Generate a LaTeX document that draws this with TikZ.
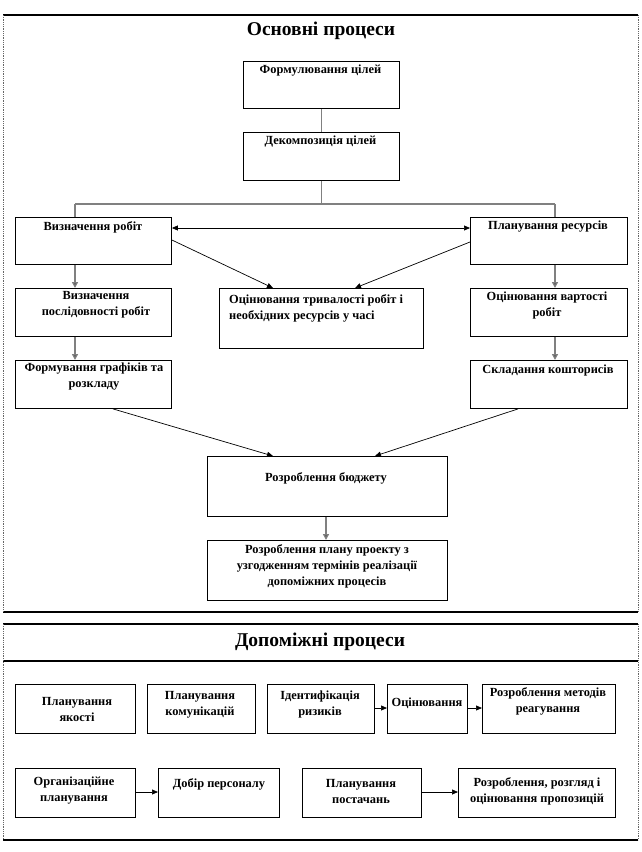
\documentclass[tikz,border=0pt]{standalone}
\usepackage{fontspec}
\setmainfont{Liberation Serif}
\usetikzlibrary{arrows.meta}
\begin{document}
\begin{tikzpicture}[x=1pt,y=-1pt,
  box/.style={draw=black,line width=0.9pt,rectangle,anchor=north west,inner sep=0pt},
  txt/.style={font=\bfseries\fontsize{12.4}{16}\selectfont,align=center,inner sep=0pt},
  ttl/.style={font=\bfseries\fontsize{19.5}{22}\selectfont,inner sep=0pt},
  gline/.style={draw=black!50,line width=1.4pt},
  garr/.style={draw=black!50,line width=1.4pt,-{Triangle[length=6pt,width=6pt,fill=black!80]}},
  barr/.style={draw=black,line width=0.7pt,-{Triangle[length=6pt,width=5pt]}},
  frame/.style={draw=black,line width=1.1pt},
  fside/.style={draw=black!60,line width=0.8pt,densely dotted}]
\useasboundingbox (0,0) rectangle (642,852);
% frames
\draw[frame] (3,15) -- (638,15);
\draw[frame] (3,612) -- (638,612);
\draw[fside] (3,15) -- (3,612);
\draw[fside] (638,15) -- (638,612);
\draw[frame] (3,624) -- (638,624);
\draw[frame] (3,840) -- (638,840);
\draw[frame] (3,661) -- (638,661);
\draw[fside] (3,624) -- (3,840);
\draw[fside] (638,624) -- (638,840);
\node[ttl] (t1) at (321,31) {Основні процеси};
\node[ttl] (t2) at (320,642) {Допоміжні процеси};
% main boxes
\node[box,minimum width=156pt,minimum height=47pt] (f1) at (243,61) {};
\node[txt] (f1t) at (320.5,71) {Формулювання цілей};
\node[box,minimum width=156pt,minimum height=48pt] (dc) at (243,132) {};
\node[txt] (dct) at (320.5,142) {Декомпозиція цілей};
\node[box,minimum width=156pt,minimum height=47pt] (vr) at (15,217) {};
\node[txt] (vrt) at (93,227) {Визначення робіт};
\node[box,minimum width=157pt,minimum height=47pt] (pr) at (470,217) {};
\node[txt] (prt) at (548,227) {Планування ресурсів};
\node[box,minimum width=156pt,minimum height=48pt] (vp) at (15,288) {};
\node[txt] (vpt) at (96,305) {Визначення\\послідовності робіт};
\node[box,minimum width=204pt,minimum height=60pt] (ot) at (219,288) {};
\node[txt,align=left,anchor=west] (ott) at (229,308) {Оцінювання тривалості робіт і\\необхідних ресурсів у часі};
\node[box,minimum width=157pt,minimum height=48pt] (ov) at (470,288) {};
\node[txt] (ovt) at (547,306) {Оцінювання вартості\\робіт};
\node[box,minimum width=156pt,minimum height=48pt] (fg) at (15,360) {};
\node[txt] (fgt) at (94,377) {Формування графіків та\\розкладу};
\node[box,minimum width=157pt,minimum height=48pt] (sk) at (470,360) {};
\node[txt] (skt) at (548,371) {Складання кошторисів};
\node[box,minimum width=240pt,minimum height=60pt] (bd) at (207,456) {};
\node[txt] (bdt) at (326,478) {Розроблення бюджету};
\node[box,minimum width=240pt,minimum height=60pt] (pl) at (207,540) {};
\node[txt] (plt) at (327,566) {Розроблення плану проекту з\\узгодженням термінів реалізації\\допоміжних процесів};
% connectors main
\coordinate (hc) at (dc.south |- 0,204);
\coordinate (hl) at (75,204);
\coordinate (hr) at (555,204);
\draw[gline] (f1.south) -- (dc.north);
\draw[gline] (dc.south) -- (hc);
\draw[gline] (hl) -- (hr);
\draw[gline] (hl) -- (hl |- vr.north);
\draw[gline] (hr) -- (hr |- pr.north);
\draw[draw=black,line width=0.7pt,{Triangle[length=6pt,width=5pt]}-{Triangle[length=6pt,width=5pt]}] (vr.east |- 0,228) -- (pr.west |- 0,228);
\draw[garr] (vr.south -| hl) -- (vp.north -| hl);
\draw[garr] (vp.south -| hl) -- (fg.north -| hl);
\draw[garr] (pr.south -| hr) -- (ov.north -| hr);
\draw[garr] (ov.south -| hr) -- (sk.north -| hr);
\draw[garr] (bd.south -| 326,0) -- (pl.north -| 326,0);
\draw[barr] (vr.east |- 0,240) -- (ot.north -| 273,0);
\draw[barr] (pr.west |- 0,242) -- (ot.north -| 355,0);
\draw[barr] (fg.south -| 113,0) -- (bd.north -| 273,0);
\draw[barr] (sk.south -| 518,0) -- (bd.north -| 375,0);
% auxiliary row 1
\node[box,minimum width=120pt,minimum height=49pt] (q) at (15,684) {};
\node[txt] (qt) at (77,709) {Планування\\якості};
\node[box,minimum width=108pt,minimum height=49pt] (k) at (147,684) {};
\node[txt] (kt) at (200,705) {Планування\\комунікацій};
\node[box,minimum width=107pt,minimum height=49pt] (id) at (267,684) {};
\node[txt] (idt) at (320,705) {Ідентифікація\\ризиків};
\node[box,minimum width=80pt,minimum height=49pt] (oc) at (387,684) {};
\node[txt] (oct) at (427,703) {Оцінювання};
\node[box,minimum width=133pt,minimum height=49pt] (mr) at (482,684) {};
\node[txt] (mrt) at (548,701) {Розроблення методів\\реагування};
\draw[barr] (id.east |- 0,708) -- (oc.west |- 0,708);
\draw[barr] (oc.east |- 0,708) -- (mr.west |- 0,708);
% auxiliary row 2
\node[box,minimum width=120pt,minimum height=49pt] (op) at (15,768) {};
\node[txt] (opt) at (74,791) {Організаційне\\планування};
\node[box,minimum width=121pt,minimum height=49pt] (dp) at (158,768) {};
\node[txt] (dpt) at (219,784) {Добір персоналу};
\node[box,minimum width=119pt,minimum height=49pt] (pp) at (302,768) {};
\node[txt] (ppt) at (361,791) {Планування\\постачань};
\node[box,minimum width=157pt,minimum height=49pt] (rp) at (458,768) {};
\node[txt] (rpt) at (537,791) {Розроблення, розгляд і\\оцінювання пропозицій};
\draw[barr] (op.east |- 0,792) -- (dp.west |- 0,792);
\draw[barr] (pp.east |- 0,792) -- (rp.west |- 0,792);
\end{tikzpicture}
\end{document}
